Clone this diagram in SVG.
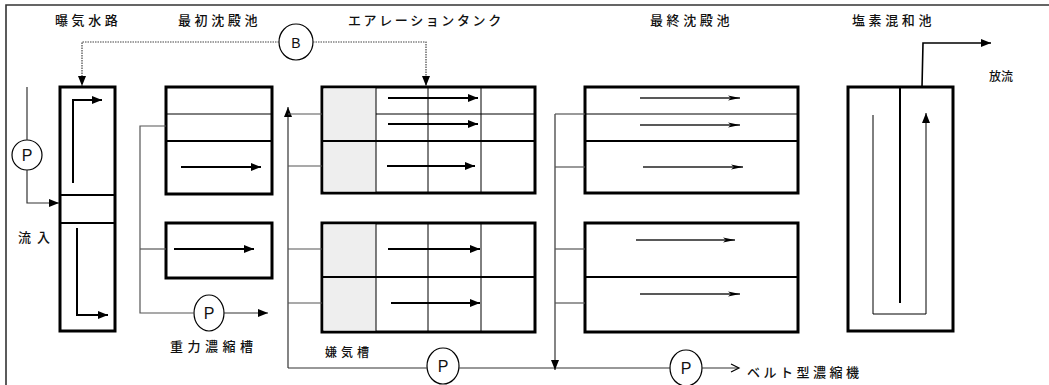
<svg xmlns="http://www.w3.org/2000/svg" width="1049" height="385" viewBox="0 0 1049 385">
<style>
  text { font-family: "Noto Sans CJK JP", "Liberation Sans", sans-serif; fill: #111; font-weight: 500; }
  .title { font-size: 13px; letter-spacing: 3.6px; }
  .lbl { font-size: 13px; }
  .pl { font-family: "Liberation Sans", sans-serif; font-size: 16px; text-anchor: middle; font-weight: normal; }
  .box { fill: #fff; stroke: #000; stroke-width: 3; }
  .thick { stroke: #000; stroke-width: 2; fill: none; }
  .thin { stroke: #000; stroke-width: 1; fill: none; }
  .gray { fill: #eeeeee; stroke: none; }
  .flow { stroke: #000; stroke-width: 2; fill: none; marker-end: url(#ah); }
  .flow2 { stroke: #222; stroke-width: 1.5; fill: none; marker-end: url(#ah2); }
  .conn { stroke: #555; stroke-width: 1.2; fill: none; }
  .connA { stroke: #333; stroke-width: 1.2; fill: none; marker-end: url(#ah); }
  .dot { stroke: #444; stroke-width: 1.2; stroke-dasharray: 1.5 1; fill: none; marker-end: url(#ah); }
  .pump { fill: #fff; stroke: #000; stroke-width: 1.2; }
</style>
<defs>
  <marker id="ah" markerUnits="userSpaceOnUse" markerWidth="10" markerHeight="8" refX="10" refY="4" orient="auto">
    <path d="M0,0 L10,4 L0,8 z" fill="#000"/>
  </marker>
  <marker id="ah2" markerUnits="userSpaceOnUse" markerWidth="12" markerHeight="6" refX="12" refY="3" orient="auto">
    <path d="M0,0.5 L12,3 L0,5.5 L3,3 z" fill="#000"/>
  </marker>
</defs>
<rect width="1049" height="385" fill="#fff"/>
<g id="frame">
  <path d="M6,385 L6,5 L1049,5" stroke="#333" stroke-width="1.6" fill="none"/>
</g>

<g id="aeration-channel">
  <text class="title" x="55" y="25">曝気水路</text>
  <rect class="box" x="60" y="87" width="55" height="244"/>
  <line class="thick" x1="60" y1="195" x2="115" y2="195"/>
  <line class="thick" x1="60" y1="223" x2="115" y2="223"/>
  <path class="flow" d="M73,183 L73,100 L102,100"/>
  <path class="flow" d="M77,228 L77,315 L108,315"/>
</g>

<g id="primary-sedimentation">
  <text class="title" x="178" y="25">最初沈殿池</text>
  <rect class="box" x="166" y="87" width="106" height="107"/>
  <line class="thin" x1="166" y1="114" x2="272" y2="114"/>
  <line class="thick" x1="166" y1="141" x2="272" y2="141"/>
  <line class="flow" x1="181" y1="167" x2="261" y2="167"/>
  <rect class="box" x="166" y="223" width="106" height="55"/>
  <line class="flow" x1="174" y1="249" x2="254" y2="249"/>
</g>

<g id="aeration-tank">
  <text class="title" x="348" y="25" style="letter-spacing:2.6px">エアレーションタンク</text>
  <rect class="box" x="322" y="87" width="213" height="106"/>
  <rect class="gray" x="323.5" y="88.5" width="52.5" height="103"/>
  <line class="thin" x1="376" y1="87" x2="376" y2="193"/>
  <line class="thin" x1="428" y1="87" x2="428" y2="193"/>
  <line class="thin" x1="481" y1="87" x2="481" y2="193"/>
  <line class="thin" x1="376" y1="114" x2="535" y2="114"/>
  <line class="thick" x1="322" y1="141" x2="535" y2="141"/>
  <line class="flow" x1="388" y1="98" x2="478" y2="98"/>
  <line class="flow" x1="388" y1="124" x2="478" y2="124"/>
  <line class="flow" x1="387" y1="166" x2="475" y2="166"/>
  <rect class="box" x="322" y="223" width="213" height="109"/>
  <rect class="gray" x="323.5" y="224.5" width="52.5" height="106"/>
  <line class="thin" x1="376" y1="223" x2="376" y2="332"/>
  <line class="thin" x1="428" y1="223" x2="428" y2="332"/>
  <line class="thin" x1="481" y1="223" x2="481" y2="332"/>
  <line class="thick" x1="322" y1="277" x2="535" y2="277"/>
  <line class="flow" x1="388" y1="249" x2="480" y2="249"/>
  <line class="flow" x1="391" y1="303" x2="480" y2="303"/>
  <text class="lbl" x="325" y="357" style="font-size:12px;letter-spacing:4px">嫌気槽</text>
</g>

<g id="final-sedimentation">
  <text class="title" x="650" y="25">最終沈殿池</text>
  <rect class="box" x="585" y="87" width="213" height="106"/>
  <line class="thin" x1="585" y1="114" x2="798" y2="114"/>
  <line class="thick" x1="585" y1="141" x2="798" y2="141"/>
  <line class="flow2" x1="640" y1="98" x2="740" y2="98"/>
  <line class="flow2" x1="640" y1="125" x2="740" y2="125"/>
  <line class="flow2" x1="643" y1="167" x2="743" y2="167"/>
  <rect class="box" x="585" y="223" width="213" height="109"/>
  <line class="thick" x1="585" y1="277" x2="798" y2="277"/>
  <line class="flow2" x1="636" y1="240" x2="735" y2="240"/>
  <line class="flow2" x1="640" y1="294" x2="740" y2="294"/>
</g>

<g id="chlorine-tank">
  <text class="title" x="852" y="25">塩素混和池</text>
  <rect class="box" x="848" y="87" width="105" height="244"/>
  <line class="thick" x1="900" y1="87" x2="900" y2="303"/>
  <path class="thin" d="M873,115 L873,314 L926,314 L926,113" style="marker-end:url(#ah)"/>
  <text class="lbl" x="989" y="81" style="font-size:12px">放流</text>
</g>

<g id="blower">
  <ellipse class="pump" cx="296" cy="42" rx="17" ry="18"/>
  <text class="pl" x="296" y="47.5" style="font-size:14px">B</text>
</g>
<g id="pump-inflow">
  <circle class="pump" cx="27" cy="155" r="15"/>
  <text class="pl" x="27" y="161">P</text>
</g>
<g id="pump-gravity">
  <ellipse class="pump" cx="209" cy="313" rx="15" ry="18"/>
  <text class="pl" x="209" y="319">P</text>
  <text class="lbl" x="170" y="351" style="letter-spacing:4.5px">重力濃縮槽</text>
</g>
<g id="pump-return">
  <ellipse class="pump" cx="443" cy="366" rx="16" ry="18"/>
  <text class="pl" x="443" y="372">P</text>
</g>
<g id="pump-excess">
  <ellipse class="pump" cx="686" cy="368" rx="16" ry="18"/>
  <text class="pl" x="686" y="374">P</text>
  <text class="lbl" x="747" y="377" style="letter-spacing:3.5px">ベルト型濃縮機</text>
</g>
<g id="inflow-label">
  <text class="lbl" x="18" y="242" style="letter-spacing:6px">流入</text>
</g>

<g id="connectors">
  <path class="dot" d="M279,42 L82,42 L82,86"/>
  <path class="dot" d="M313,42 L426,42 L426,86"/>
  <line class="conn" x1="27" y1="87" x2="27" y2="140" style="stroke:#333"/>
  <path class="connA" d="M27,170 L27,203 L59,203"/>
  <path class="conn" d="M166,126 L140,126 L140,313 L194,313"/>
  <line class="conn" x1="140" y1="249" x2="166" y2="249"/>
  <line class="connA" x1="224" y1="313" x2="268" y2="313"/>
  <line class="connA" x1="288" y1="368" x2="288" y2="107"/>
  <line class="conn" x1="288" y1="114" x2="322" y2="114"/>
  <line class="conn" x1="288" y1="166" x2="322" y2="166"/>
  <line class="conn" x1="288" y1="249" x2="322" y2="249"/>
  <line class="conn" x1="288" y1="303" x2="322" y2="303"/>
  <line class="conn" x1="288" y1="368" x2="427" y2="368" style="stroke:#333"/>
  <line class="conn" x1="459" y1="368" x2="670" y2="368" style="stroke:#333"/>
  <line class="connA" x1="555" y1="114" x2="555" y2="370"/>
  <line class="conn" x1="555" y1="114" x2="585" y2="114"/>
  <line class="conn" x1="555" y1="167" x2="585" y2="167"/>
  <line class="conn" x1="555" y1="249" x2="585" y2="249"/>
  <line class="conn" x1="555" y1="303" x2="585" y2="303"/>
  <line class="conn" x1="702" y1="368" x2="738" y2="368" style="stroke:#333"/>
  <path d="M731,364 L739,368 L731,372" stroke="#000" stroke-width="1.2" fill="none"/>
  <path class="connA" d="M922,87 L923,43 L991,43" style="stroke:#000;stroke-width:1.6"/>
</g>
</svg>
